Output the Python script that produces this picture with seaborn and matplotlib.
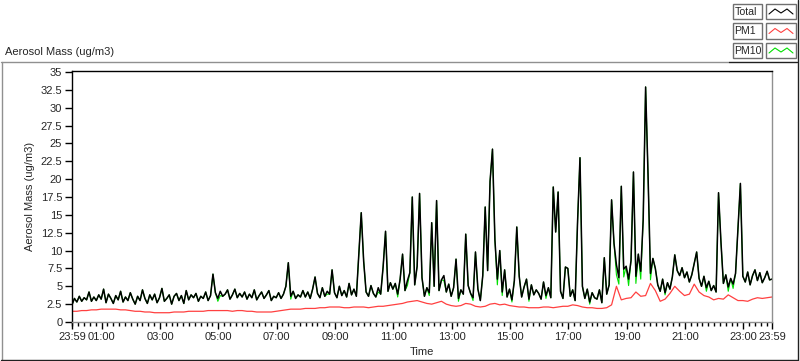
import numpy as np
import pandas as pd
import matplotlib
matplotlib.use('Agg')
import matplotlib.pyplot as plt
import seaborn as sns
from matplotlib.patches import Rectangle
from matplotlib.lines import Line2D
from matplotlib.ticker import MultipleLocator

# Valores (5 min para Total/PM10, 10 min para PM1)
total = [
    2.4, 3.3, 2.8, 3.6, 2.9, 3.4, 3.1, 4.2, 2.9, 3.5, 3.0, 3.8,
    3.2, 4.6, 2.7, 3.9, 3.3, 2.6, 3.7, 3.1, 4.3, 2.8, 3.5, 3.0,
    4.1, 3.2, 2.5, 3.6, 3.0, 4.5, 3.3, 2.6, 3.8, 3.1, 3.9, 2.7,
    3.4, 4.7, 2.9, 3.3, 3.8, 2.5, 3.6, 4.0, 3.0, 3.7, 2.6, 4.4,
    3.1, 3.8, 3.4, 4.0, 2.9, 3.6, 3.3, 4.2, 3.0, 3.7, 6.7, 4.1,
    3.3, 4.3, 3.6, 3.9, 4.5, 3.2, 3.8, 4.6, 3.4, 4.0, 3.5, 4.2,
    3.2, 3.9, 3.4, 4.5, 3.1, 3.7, 4.2, 3.3, 3.8, 4.4, 3.0, 3.6,
    3.4, 4.1, 3.3, 3.9, 5.0, 8.3, 3.6, 4.3, 3.3, 3.8, 3.5, 4.4,
    3.5, 4.2, 3.3, 4.6, 6.3, 4.0, 3.4, 4.8, 3.6, 4.3, 3.9, 7.3,
    4.1, 3.4, 5.0, 3.7, 4.4, 3.5, 5.4, 3.8, 4.6, 3.6, 9.4, 15.3,
    8.5, 4.2, 3.6, 5.1, 4.0, 3.5, 4.8, 3.9, 7.7, 12.7, 4.3, 5.5,
    4.6, 5.4, 3.9, 6.0, 9.5, 4.4, 5.8, 6.9, 17.5, 5.2, 7.8, 18.0,
    6.2, 3.6, 4.8, 4.1, 13.9, 5.0, 17.0, 4.4, 5.9, 6.5, 4.2, 5.3,
    3.6, 4.8, 8.8, 3.3, 4.5, 3.9, 12.3, 5.1, 4.0, 3.4, 9.8, 4.6,
    3.0, 6.5, 16.1, 7.2, 19.7, 24.2, 11.5, 6.0, 10.0, 4.2, 7.3, 3.5,
    4.6, 3.1, 5.8, 13.3, 6.4, 3.5, 4.9, 6.0, 3.2, 5.2, 3.8, 4.5,
    4.0, 3.2, 5.6, 3.7, 4.8, 3.4, 18.9, 12.6, 18.2, 4.3, 3.3, 7.7,
    7.5, 3.6, 4.5, 3.0, 14.0, 23.0, 5.0, 3.3, 4.6, 2.8, 4.1, 3.4,
    3.2, 4.5, 2.7, 9.0, 3.9, 5.2, 17.1, 11.0, 8.0, 6.2, 19.0, 7.4,
    7.8, 6.0, 8.6, 21.0, 6.4, 9.5, 7.1, 14.3, 32.9, 20.6, 6.8, 8.9,
    7.5, 5.2, 4.3, 6.0, 4.1, 5.5, 4.6, 6.3, 9.4, 7.2, 6.5, 7.6,
    6.2, 7.0, 5.6, 6.6, 8.2, 9.8, 6.1, 5.0, 6.4, 4.8, 5.7, 4.4,
    5.1, 4.2, 18.1, 11.2, 5.4, 6.6, 4.9, 6.1, 5.3, 6.8, 13.0, 19.4,
    6.4, 5.6, 7.0, 5.2, 6.5, 7.3, 5.8, 6.9, 5.5, 6.2, 7.1, 5.9,
    6.0,
]

pm10 = [
    2.4, 3.3, 2.8, 3.6, 2.9, 3.4, 3.1, 4.2, 2.9, 3.5, 3.0, 3.8,
    3.2, 4.6, 2.7, 3.9, 3.3, 2.6, 3.7, 3.1, 4.3, 2.8, 3.5, 3.0,
    4.1, 3.2, 2.5, 3.6, 3.0, 4.5, 3.3, 2.6, 3.8, 3.1, 3.9, 2.7,
    3.4, 4.7, 2.9, 3.3, 3.8, 2.5, 3.6, 4.0, 3.0, 3.7, 2.6, 4.4,
    3.1, 3.8, 3.4, 4.0, 2.9, 3.6, 3.3, 4.2, 3.0, 3.7, 6.7, 4.1,
    2.9, 3.7, 3.6, 3.9, 4.5, 3.2, 3.8, 4.6, 3.4, 4.0, 3.5, 4.2,
    3.2, 3.9, 3.4, 4.5, 3.1, 3.7, 4.2, 3.3, 3.8, 4.4, 3.0, 3.6,
    3.4, 4.1, 3.3, 3.9, 5.0, 8.3, 3.2, 4.3, 3.3, 3.8, 3.5, 4.4,
    3.5, 4.2, 3.3, 4.6, 6.3, 4.0, 3.4, 4.8, 3.6, 3.9, 3.9, 7.3,
    4.1, 3.4, 5.0, 3.7, 4.4, 3.5, 5.4, 3.8, 4.6, 3.6, 9.4, 15.3,
    8.5, 4.2, 3.6, 5.1, 4.0, 3.5, 4.2, 3.9, 7.7, 12.7, 4.3, 5.5,
    4.6, 5.4, 3.5, 6.0, 9.5, 4.4, 5.1, 6.9, 17.5, 5.2, 7.8, 18.0,
    6.2, 3.6, 4.8, 3.7, 13.9, 5.0, 17.0, 4.4, 5.9, 5.8, 4.2, 5.3,
    3.6, 4.8, 8.8, 2.9, 4.5, 3.9, 12.3, 5.1, 4.0, 3.0, 9.8, 4.6,
    3.0, 6.5, 16.1, 7.2, 19.7, 24.2, 11.5, 5.2, 10.0, 3.7, 7.3, 3.5,
    4.6, 2.8, 5.8, 13.3, 6.4, 3.5, 4.9, 6.0, 2.9, 5.2, 3.8, 4.5,
    4.0, 3.2, 5.6, 3.3, 4.8, 3.4, 18.9, 12.6, 18.2, 4.3, 3.3, 7.7,
    7.5, 3.6, 4.5, 3.0, 14.0, 23.0, 5.0, 3.3, 4.6, 2.5, 4.1, 3.4,
    3.2, 4.5, 2.7, 9.0, 3.9, 5.2, 17.1, 11.0, 6.6, 5.3, 19.0, 6.3,
    7.8, 5.1, 8.6, 21.0, 5.4, 9.5, 6.0, 14.3, 32.9, 20.6, 5.9, 8.9,
    7.5, 5.2, 4.3, 6.0, 3.8, 5.5, 4.6, 6.3, 9.4, 7.2, 6.5, 7.6,
    6.2, 7.0, 5.6, 6.6, 8.2, 9.8, 6.1, 5.0, 6.4, 4.3, 5.7, 4.4,
    5.1, 4.2, 18.1, 11.2, 5.4, 6.6, 4.3, 6.1, 4.7, 6.8, 13.0, 19.4,
    6.4, 5.6, 7.0, 5.2, 6.5, 7.3, 5.8, 6.9, 5.5, 6.2, 7.1, 5.9,
    6.0,
]

pm1 = [
    1.5, 1.5, 1.6, 1.6, 1.7, 1.7,
    1.8, 1.8, 1.8, 1.8, 1.7, 1.7,
    1.6, 1.5, 1.5, 1.4, 1.4, 1.3,
    1.3, 1.3, 1.3, 1.4, 1.4, 1.4,
    1.5, 1.5, 1.5, 1.5, 1.6, 1.6,
    1.6, 1.6, 1.6, 1.5, 1.6, 1.6,
    1.5, 1.5, 1.4, 1.4, 1.4, 1.4,
    1.5, 1.6, 1.7, 1.8, 1.8, 1.8,
    1.9, 1.9, 1.9, 2.0, 2.0, 2.1,
    2.1, 2.1, 2.0, 2.0, 2.1, 2.1,
    2.1, 2.0, 2.1, 2.2, 2.2, 2.3,
    2.4, 2.5, 2.6, 2.8, 2.9, 3.0,
    2.8, 2.6, 2.5, 2.7, 2.9, 2.5,
    2.3, 2.2, 2.3, 2.6, 2.5, 2.2,
    2.1, 2.2, 2.5, 2.6, 2.4, 2.5,
    2.3, 2.2, 2.1, 2.1, 2.0, 2.0,
    2.0, 2.1, 2.1, 2.0, 2.1, 2.2,
    2.2, 2.4, 2.3, 2.1, 2.0, 2.0,
    1.9, 1.9, 2.0, 2.4, 5.0, 3.1,
    3.3, 3.4, 4.2, 3.6, 3.7, 5.4,
    4.4, 2.9, 3.2, 4.0, 5.0, 4.3,
    3.7, 3.9, 5.3, 4.2, 3.7, 3.5,
    3.1, 3.3, 3.2, 3.8, 3.4, 3.0,
    3.0, 2.9, 3.2, 3.4, 3.3, 3.4,
    3.5,
]

series_names = ['Total', 'PM1', 'PM10']
series_colors = ['#000000', '#ff4040', '#00e000']

hour_ticks = [-1, 60, 180, 300, 420, 540, 660, 780, 900, 1020, 1140, 1260, 1380, 1439]
hour_labels = ['23:59', '01:00', '03:00', '05:00', '07:00', '09:00', '11:00',
               '13:00', '15:00', '17:00', '19:00', '21:00', '23:00', '23:59']

# minutos desde a meia-noite (o eixo começa às 23:59 do dia anterior)
df_fast = pd.DataFrame({'minute': np.arange(len(total)) * 5 - 1,
                        'Total': total, 'PM10': pm10})
df_slow = pd.DataFrame({'minute': np.arange(len(pm1)) * 10 - 1, 'PM1': pm1})

sns.set_style('white')
plt.rcParams['font.family'] = ['Liberation Sans', 'DejaVu Sans']
plt.rcParams['font.size'] = 8

W, H = 800, 361
fig = plt.figure(figsize=(W / 100, H / 100), dpi=100)
ax = fig.add_axes([72 / W, 1 - 322 / H, 700 / W, 251 / H])

sns.lineplot(data=df_fast, x='minute', y='PM10', color=series_colors[2], lw=0.8, ax=ax)
sns.lineplot(data=df_slow, x='minute', y='PM1', color=series_colors[1], lw=0.9, ax=ax)
sns.lineplot(data=df_fast, x='minute', y='Total', color=series_colors[0], lw=1.1, ax=ax)

ax.set_xlim(-1, 1439)
ax.set_ylim(0, 35.14)
yt = np.arange(0, 35.1, 2.5)
ax.set_yticks(yt)
ax.set_yticklabels([f'{v:g}' for v in yt])
ax.set_xticks(hour_ticks)
ax.set_xticklabels(hour_labels)
ax.xaxis.set_minor_locator(MultipleLocator(12))
ax.tick_params(axis='both', which='major', direction='out', length=5, width=1,
               color='black', labelsize=8, pad=2, bottom=True, left=True)
ax.tick_params(axis='x', which='minor', direction='out', length=3, width=1,
               color='black', bottom=True)
ax.set_xlabel('Time', fontsize=8, labelpad=4)
ax.set_ylabel('Aerosol Mass (ug/m3)', fontsize=8, labelpad=4)

for side, col in [('top', 'black'), ('left', 'black'), ('right', '#909090'), ('bottom', '#909090')]:
    ax.spines[side].set_visible(True)
    ax.spines[side].set_color(col)
    ax.spines[side].set_linewidth(1)

# moldura do painel e título superior
def px(x, y):
    return x / W, 1 - y / H

def fline(xs, ys, color, lw=1.0):
    fx = [x / W for x in xs]
    fy = [1 - y / H for y in ys]
    fig.add_artist(Line2D(fx, fy, color=color, lw=lw, transform=fig.transFigure))

fline([1, 729], [61.5, 61.5], '#909090')
fline([1.5, 1.5], [61.5, 359.5], '#909090')
fline([1, 798], [359.5, 359.5], '#202020')
fline([797.5, 797.5], [0, 359.5], '#202020')
fline([729, 797], [61.5, 61.5], '#202020')

fig.text(*px(5, 52), 'Aerosol Mass (ug/m3)', fontsize=8, va='center', ha='left')

# legenda ao estilo LabVIEW
for i, (name, col) in enumerate(zip(series_names, series_colors)):
    top = 4 + i * 19.5
    x0, y0 = px(733, top + 15)
    fig.add_artist(Rectangle((x0, y0), 29 / W, 15 / H, transform=fig.transFigure,
                             facecolor='white', edgecolor='#707070', lw=1))
    fig.text(*px(734.5, top + 8), name, fontsize=7.6, va='center', ha='left')
    x1, y1 = px(766, top + 15)
    fig.add_artist(Rectangle((x1, y1), 30 / W, 15 / H, transform=fig.transFigure,
                             facecolor='white', edgecolor='#707070', lw=1))
    zx = [769, 775, 781, 787, 793]
    zy = [top + 10, top + 5, top + 9, top + 5, top + 10]
    fline(zx, zy, col, lw=0.8)

fig.savefig('out.png', dpi=100, facecolor='white')
